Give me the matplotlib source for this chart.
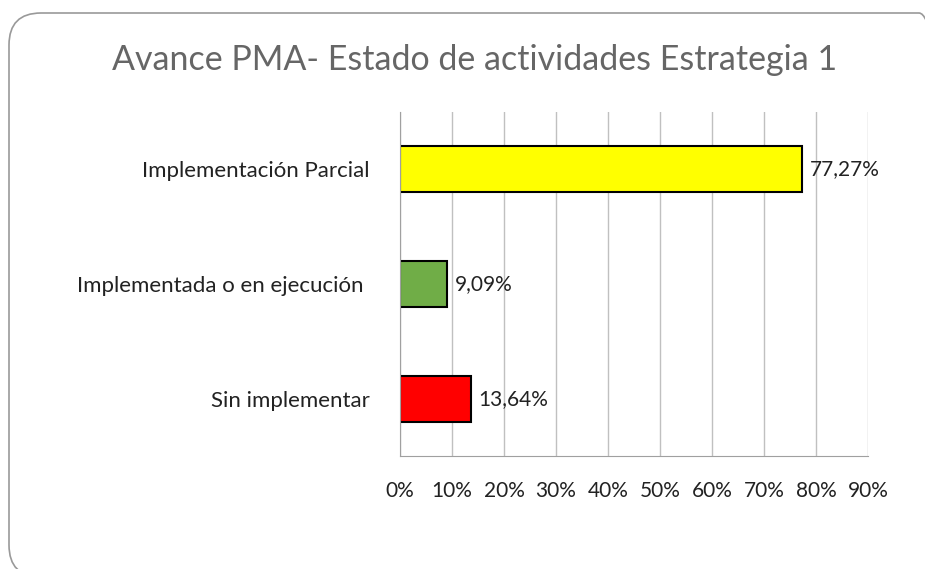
import matplotlib.pyplot as plt
from matplotlib.patches import FancyBboxPatch
from matplotlib.ticker import PercentFormatter

categories = ["Sin implementar", "Implementada o en ejecución ", "Implementación Parcial"]
values = [13.64, 9.09, 77.27]
colors = ["#FF0000", "#70AD47", "#FFFF00"]
ticks = [0, 10, 20, 30, 40, 50, 60, 70, 80, 90]

plt.rcParams['font.family'] = ['Lato', 'DejaVu Sans']

fig = plt.figure(figsize=(9.25, 5.69), dpi=100)

# rounded frame around the chart (in inches)
frame = FancyBboxPatch((0.09, -0.08), 9.42, 5.64,
                       boxstyle="round,pad=0,rounding_size=0.32",
                       transform=fig.dpi_scale_trans, fill=False,
                       edgecolor="#999999", linewidth=1.2)
fig.patches.append(frame)

ax = fig.add_axes([0.4324, 0.1986, 0.5059, 0.6046])
ax.barh(range(len(categories)), values, height=0.4, color=colors,
        edgecolor="black", linewidth=1.5, zorder=3)

for i, v in enumerate(values):
    ax.text(v + 1.5, i, f"{v:.2f}%".replace(".", ","), va="center",
            ha="left", fontsize=15, color="#222222")

ax.set_xlim(0, 90)
ax.set_ylim(-0.5, 2.5)
ax.set_xticks(ticks)
ax.xaxis.set_major_formatter(PercentFormatter(decimals=0))
ax.set_yticks(range(len(categories)))
ax.set_yticklabels(categories, fontsize=16)
ax.tick_params(axis="both", length=0, colors="#222222")
ax.tick_params(axis="x", labelsize=15, pad=18)
ax.tick_params(axis="y", pad=22)
ax.grid(axis="x", color="#c0c0c0", linewidth=1, zorder=0)
for s in ["top", "right"]:
    ax.spines[s].set_visible(False)
for s in ["left", "bottom"]:
    ax.spines[s].set_color("#a0a0a0")
    ax.spines[s].set_zorder(4)

fig.text(475 / 925, 1 - 60 / 569, "Avance PMA- Estado de actividades Estrategia 1",
         ha="center", va="center", fontsize=24.5, color="#666666")

fig.savefig("out.png", dpi=100)
